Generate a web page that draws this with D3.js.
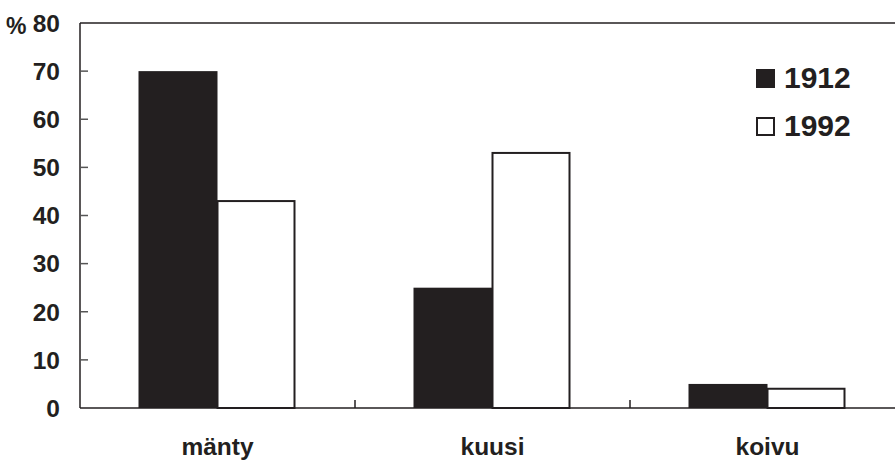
<!DOCTYPE html>
<html><head><meta charset="utf-8">
<script src="https://cdn.jsdelivr.net/npm/d3@7"></script>
<style>body{margin:0;background:#fff}svg{display:block}text{font-family:"Liberation Sans",Arial,sans-serif;font-weight:bold;fill:#231f20}</style>
</head><body>
<svg id="c" width="895" height="463"></svg>
<script>
const categories = ["mänty","kuusi","koivu"];
const seriesNames = ["1912","1992"];
const values1912 = [70,25,5];
const values1992 = [43,53,4];
const yTicks = [0,10,20,30,40,50,60,70,80];

(function(){
const ink = "#231f20";
const svg = d3.select("#c");
const pL=80, pT=23, pB=408, pR=905;
const x = d3.scaleBand().domain(categories).range([pL,pR]);
const y = d3.scaleLinear().domain([0,80]).range([pB,pT]);
const bw = 79;

const data = categories.map((c,i)=>({c, a:values1912[i], b:values1992[i]}));
svg.selectAll("rect.a").data(data).join("rect").attr("class","a")
  .attr("x",d=>x(d.c)+x.bandwidth()/2-bw).attr("width",bw)
  .attr("y",d=>y(d.a)).attr("height",d=>pB-y(d.a))
  .attr("fill",ink);
svg.selectAll("rect.b").data(data).join("rect").attr("class","b")
  .attr("x",d=>x(d.c)+x.bandwidth()/2).attr("width",bw-2)
  .attr("y",d=>y(d.b)).attr("height",d=>pB-y(d.b))
  .attr("fill","#fff").attr("stroke",ink).attr("stroke-width",2);

svg.append("line").attr("x1",pL).attr("x2",895).attr("y1",pT).attr("y2",pT).attr("stroke",ink).attr("stroke-width",1.5);
svg.append("line").attr("x1",pL).attr("x2",895).attr("y1",pB).attr("y2",pB).attr("stroke",ink).attr("stroke-width",1.5);
svg.append("line").attr("x1",pL).attr("x2",pL).attr("y1",pT).attr("y2",pB).attr("stroke",ink).attr("stroke-width",1.5);

svg.selectAll("line.yt").data(yTicks.slice(1,-1)).join("line").attr("class","yt")
  .attr("x1",pL).attr("x2",pL+8).attr("y1",d=>y(d)).attr("y2",d=>y(d))
  .attr("stroke","#555").attr("stroke-width",1.5);
svg.selectAll("text.yl").data(yTicks).join("text").attr("class","yl")
  .attr("x",60).attr("y",d=>y(d)+8.8).attr("text-anchor","end")
  .attr("font-size",24.5).text(d=>d);
svg.append("text").attr("x",6).attr("y",34).attr("font-size",23).text("%");

svg.selectAll("line.xt").data(categories.slice(1)).join("line").attr("class","xt")
  .attr("x1",d=>x(d)).attr("x2",d=>x(d)).attr("y1",pB-8).attr("y2",pB)
  .attr("stroke",ink).attr("stroke-width",1.5);
svg.selectAll("text.xl").data(categories).join("text").attr("class","xl")
  .attr("x",d=>x(d)+x.bandwidth()/2).attr("y",455).attr("text-anchor","middle")
  .attr("font-size",24.5).text(d=>d);

const lg = svg.append("g");
seriesNames.forEach((s,i)=>{
  const yy = 69 + i*48;
  lg.append("rect").attr("x",i?757:756).attr("y",i?yy+1:yy).attr("width",i?17:19).attr("height",i?17:19)
    .attr("fill",i?"#fff":ink).attr("stroke",i?ink:"none").attr("stroke-width",2);
  lg.append("text").attr("x",784).attr("y",yy+19).attr("font-size",30).text(s);
});
})();
</script>
</body></html>
